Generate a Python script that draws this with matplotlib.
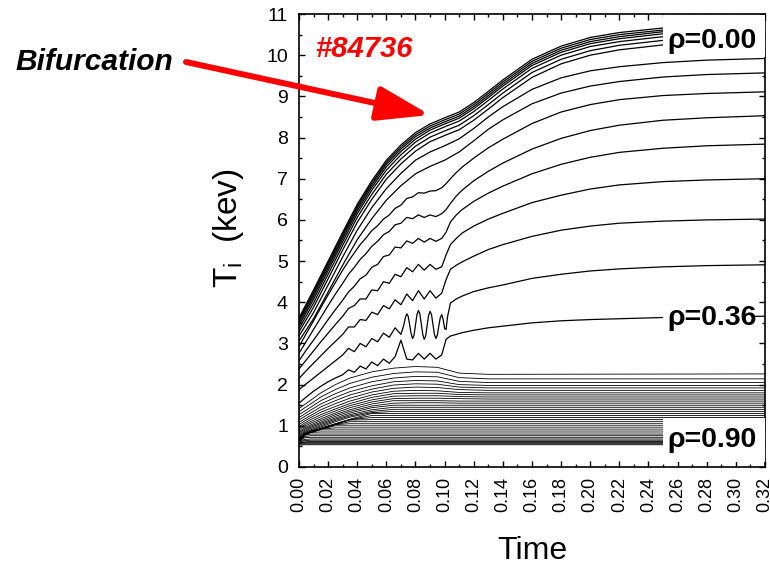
import matplotlib
matplotlib.use("Agg")
import matplotlib.pyplot as plt
from matplotlib.patches import Rectangle
from matplotlib.ticker import MultipleLocator

plt.rcParams['font.family'] = ['Liberation Sans', 'DejaVu Sans']
plt.rcParams['mathtext.default'] = 'regular'

# ---- central traces (rho = 0.00 ...), smooth, coarse time grid ----
t_smooth = [0.00, 0.01, 0.02, 0.03, 0.04, 0.05, 0.06, 0.07, 0.08, 0.09, 0.10,
            0.11, 0.12, 0.13, 0.14, 0.16, 0.18, 0.20, 0.22, 0.25, 0.28, 0.32]
ti_smooth = [
    [3.62, 4.30, 5.00, 5.70, 6.38, 6.95, 7.45, 7.82, 8.12, 8.33, 8.48, 8.62, 8.85, 9.12, 9.40, 9.90, 10.22, 10.43, 10.55, 10.66, 10.73, 10.79],
    [3.58, 4.25, 4.95, 5.65, 6.33, 6.90, 7.40, 7.77, 8.07, 8.28, 8.43, 8.57, 8.80, 9.07, 9.35, 9.85, 10.17, 10.38, 10.50, 10.61, 10.68, 10.74],
    [3.54, 4.20, 4.90, 5.60, 6.28, 6.85, 7.35, 7.72, 8.02, 8.23, 8.38, 8.52, 8.75, 9.02, 9.30, 9.80, 10.12, 10.33, 10.45, 10.57, 10.64, 10.70],
    [3.49, 4.14, 4.84, 5.54, 6.22, 6.79, 7.29, 7.66, 7.96, 8.18, 8.33, 8.47, 8.70, 8.97, 9.25, 9.75, 10.07, 10.28, 10.40, 10.52, 10.59, 10.65],
    [3.43, 4.07, 4.77, 5.47, 6.15, 6.72, 7.21, 7.58, 7.89, 8.11, 8.26, 8.40, 8.63, 8.90, 9.18, 9.68, 10.00, 10.21, 10.33, 10.45, 10.52, 10.58],
    [3.36, 3.98, 4.68, 5.38, 6.06, 6.62, 7.11, 7.48, 7.79, 8.01, 8.16, 8.30, 8.53, 8.80, 9.08, 9.58, 9.90, 10.11, 10.24, 10.36, 10.44, 10.50],
    [3.28, 3.88, 4.57, 5.27, 5.94, 6.50, 6.99, 7.36, 7.67, 7.90, 8.05, 8.19, 8.42, 8.69, 8.97, 9.46, 9.79, 10.00, 10.13, 10.25, 10.33, 10.40],
    [3.18, 3.75, 4.42, 5.10, 5.75, 6.30, 6.76, 7.13, 7.45, 7.65, 7.80, 7.97, 8.22, 8.50, 8.75, 9.17, 9.45, 9.62, 9.72, 9.82, 9.88, 9.92],
    [3.06, 3.60, 4.25, 4.90, 5.52, 6.03, 6.48, 6.83, 7.12, 7.30, 7.45, 7.65, 7.92, 8.20, 8.43, 8.82, 9.08, 9.25, 9.36, 9.47, 9.53, 9.57],
]

# ---- traces with small oscillations before the bifurcation ----
t_wavy = [0.000, 0.005, 0.010, 0.015, 0.020, 0.025, 0.030, 0.034, 0.038, 0.042,
          0.046, 0.050, 0.054, 0.058, 0.062, 0.066, 0.070, 0.074, 0.078, 0.082,
          0.086, 0.090, 0.094, 0.098, 0.101, 0.104, 0.108, 0.112, 0.120, 0.130,
          0.140, 0.160, 0.180, 0.200, 0.220, 0.250, 0.280, 0.320]
ti_wavy = [
    [2.92, 3.24, 3.55, 3.87, 4.18, 4.48, 4.78, 5.00, 5.20, 5.40, 5.56, 5.74, 5.86, 6.02, 6.12, 6.28, 6.36, 6.52, 6.56,
     6.66, 6.65, 6.70, 6.71, 6.78, 6.88, 7.00, 7.15, 7.28, 7.50, 7.75, 7.96, 8.34, 8.62, 8.80, 8.92, 9.02, 9.07, 9.11],
    [2.76, 3.05, 3.34, 3.63, 3.92, 4.20, 4.46, 4.68, 4.85, 5.04, 5.18, 5.36, 5.48, 5.64, 5.72, 5.88, 5.92, 6.06, 6.03,
     6.12, 6.06, 6.12, 6.08, 6.15, 6.25, 6.40, 6.58, 6.72, 6.95, 7.18, 7.38, 7.72, 7.98, 8.17, 8.30, 8.42, 8.48, 8.53],
    [2.58, 2.84, 3.08, 3.33, 3.58, 3.82, 4.05, 4.25, 4.39, 4.57, 4.66, 4.85, 4.92, 5.11, 5.15, 5.34, 5.32, 5.49, 5.43,
     5.55, 5.46, 5.55, 5.48, 5.55, 5.70, 5.95, 6.12, 6.25, 6.45, 6.65, 6.82, 7.12, 7.35, 7.52, 7.64, 7.74, 7.80, 7.84],
    [2.38, 2.60, 2.82, 3.04, 3.25, 3.46, 3.66, 3.85, 3.92, 4.08, 4.08, 4.30, 4.28, 4.50, 4.46, 4.68, 4.62, 4.84, 4.74,
     4.92, 4.78, 4.92, 4.80, 4.86, 5.15, 5.40, 5.55, 5.68, 5.85, 6.02, 6.16, 6.42, 6.60, 6.75, 6.85, 6.93, 6.97, 7.00],
    [2.15, 2.34, 2.52, 2.70, 2.88, 3.05, 3.22, 3.40, 3.40, 3.58, 3.56, 3.76, 3.70, 3.92, 3.84, 4.06, 3.94, 4.20, 4.04,
     4.28, 4.08, 4.28, 4.10, 4.22, 4.55, 4.80, 4.90, 4.98, 5.12, 5.28, 5.40, 5.60, 5.75, 5.85, 5.92, 5.97, 6.00, 6.02],
    [1.55, 1.70, 1.84, 1.96, 2.07, 2.16, 2.24, 2.36, 2.30, 2.45, 2.38, 2.55, 2.46, 2.62, 2.52, 2.68, 3.08, 2.62, 2.60,
     2.76, 2.62, 2.76, 2.62, 2.72, 3.10, 3.18, 3.22, 3.26, 3.32, 3.38, 3.42, 3.50, 3.55, 3.58, 3.60, 3.63, 3.65, 3.66],
]

# ---- strongly oscillating trace (ends near 4.9 keV) ----
t_osc = [0.000, 0.005, 0.010, 0.015, 0.020, 0.025, 0.030, 0.034, 0.038, 0.042, 0.046, 0.050, 0.054, 0.058, 0.062, 0.066, 0.068, 0.070,
         0.072, 0.073, 0.074, 0.075, 0.076, 0.077, 0.078, 0.079, 0.080, 0.081,
         0.082, 0.083, 0.084, 0.085, 0.086, 0.087, 0.088, 0.089, 0.090, 0.091,
         0.092, 0.093, 0.094, 0.095, 0.096, 0.097, 0.098, 0.099, 0.100, 0.101,
         0.102, 0.104, 0.108, 0.112, 0.120, 0.130, 0.140, 0.160, 0.180, 0.200, 0.220, 0.250, 0.280, 0.320]
ti_osc = [1.88, 2.02, 2.16, 2.30, 2.44, 2.58, 2.72, 2.88, 2.80, 3.00, 2.92, 3.12, 3.04, 3.25, 3.15, 3.38, 3.30, 3.22,
          3.45, 3.62, 3.72, 3.66, 3.45, 3.24, 3.12, 3.20, 3.45, 3.70,
          3.80, 3.72, 3.47, 3.22, 3.10, 3.18, 3.44, 3.68, 3.78, 3.70,
          3.46, 3.22, 3.12, 3.20, 3.42, 3.62, 3.70, 3.58, 3.36, 3.34,
          3.65, 3.98, 4.08, 4.15, 4.26, 4.35, 4.42, 4.58, 4.68, 4.76, 4.81, 4.86, 4.89, 4.91]

# ---- edge traces (dense bundle) ----
t_low = [0.000, 0.004, 0.008, 0.015, 0.025, 0.035, 0.050, 0.065, 0.080, 0.095, 0.110, 0.130, 0.320]
ti_low = [
    [1.42, 1.52, 1.62, 1.80, 2.00, 2.16, 2.31, 2.40, 2.44, 2.42, 2.28, 2.25, 2.26],
    [1.34, 1.44, 1.53, 1.70, 1.88, 2.03, 2.18, 2.27, 2.31, 2.30, 2.17, 2.14, 2.14],
    [1.27, 1.36, 1.45, 1.61, 1.78, 1.92, 2.07, 2.16, 2.20, 2.19, 2.08, 2.05, 2.05],
    [1.20, 1.29, 1.38, 1.53, 1.69, 1.83, 1.97, 2.07, 2.10, 2.09, 2.00, 1.98, 1.98],
    [1.14, 1.23, 1.31, 1.46, 1.61, 1.75, 1.89, 1.99, 2.02, 2.01, 1.94, 1.92, 1.92],
    [1.08, 1.17, 1.25, 1.39, 1.54, 1.67, 1.82, 1.91, 1.94, 1.93, 1.88, 1.86, 1.86],
    [1.03, 1.12, 1.20, 1.33, 1.47, 1.60, 1.75, 1.84, 1.86, 1.85, 1.81, 1.80, 1.80],
    [0.98, 1.07, 1.15, 1.27, 1.41, 1.54, 1.69, 1.78, 1.79, 1.79, 1.76, 1.75, 1.75],
    [0.94, 1.03, 1.10, 1.22, 1.36, 1.49, 1.63, 1.72, 1.73, 1.73, 1.71, 1.70, 1.70],
    [0.90, 0.99, 1.06, 1.17, 1.31, 1.44, 1.58, 1.66, 1.67, 1.67, 1.66, 1.65, 1.65],
    [0.86, 0.95, 1.02, 1.13, 1.27, 1.39, 1.53, 1.61, 1.61, 1.61, 1.60, 1.60, 1.60],
    [0.83, 0.92, 0.99, 1.09, 1.23, 1.35, 1.48, 1.55, 1.56, 1.56, 1.55, 1.55, 1.55],
    [0.80, 0.89, 0.96, 1.06, 1.19, 1.31, 1.44, 1.50, 1.50, 1.50, 1.50, 1.50, 1.50],
    [0.77, 0.86, 0.93, 1.03, 1.16, 1.27, 1.39, 1.45, 1.45, 1.45, 1.45, 1.45, 1.45],
    [0.74, 0.84, 0.90, 1.00, 1.13, 1.24, 1.35, 1.40, 1.40, 1.40, 1.40, 1.40, 1.40],
    [0.71, 0.82, 0.88, 0.97, 1.10, 1.21, 1.32, 1.35, 1.35, 1.35, 1.35, 1.35, 1.35],
    [0.68, 0.81, 0.86, 0.94, 1.05, 1.16, 1.30, 1.30, 1.30, 1.30, 1.30, 1.30, 1.30],
    [0.67, 0.80, 0.86, 0.94, 1.05, 1.15, 1.25, 1.25, 1.25, 1.25, 1.25, 1.25, 1.25],
    [0.67, 0.80, 0.85, 0.93, 1.04, 1.15, 1.20, 1.20, 1.20, 1.20, 1.20, 1.20, 1.20],
    [0.66, 0.80, 0.85, 0.93, 1.04, 1.14, 1.15, 1.15, 1.15, 1.15, 1.15, 1.15, 1.15],
    [0.66, 0.79, 0.84, 0.92, 1.03, 1.10, 1.10, 1.10, 1.10, 1.10, 1.10, 1.10, 1.10],
    [0.65, 0.79, 0.84, 0.92, 1.03, 1.05, 1.05, 1.05, 1.05, 1.05, 1.05, 1.05, 1.05],
    [0.65, 0.79, 0.84, 0.92, 1.00, 1.00, 1.00, 1.00, 1.00, 1.00, 1.00, 1.00, 1.00],
    [0.64, 0.79, 0.84, 0.92, 0.95, 0.95, 0.95, 0.95, 0.95, 0.95, 0.95, 0.95, 0.95],
    [0.64, 0.78, 0.84, 0.90, 0.90, 0.90, 0.90, 0.90, 0.90, 0.90, 0.90, 0.90, 0.90],
    [0.63, 0.78, 0.84, 0.85, 0.85, 0.85, 0.85, 0.85, 0.85, 0.85, 0.85, 0.85, 0.85],
    [0.63, 0.77, 0.80, 0.80, 0.80, 0.80, 0.80, 0.80, 0.80, 0.80, 0.80, 0.80, 0.80],
    [0.62, 0.74, 0.76, 0.76, 0.76, 0.76, 0.76, 0.76, 0.76, 0.76, 0.76, 0.76, 0.76],
    [0.62, 0.71, 0.72, 0.72, 0.72, 0.72, 0.72, 0.72, 0.72, 0.72, 0.72, 0.72, 0.72],
    [0.61, 0.67, 0.68, 0.68, 0.68, 0.68, 0.68, 0.68, 0.68, 0.68, 0.68, 0.68, 0.68],
    [0.60, 0.64, 0.65, 0.65, 0.65, 0.65, 0.65, 0.65, 0.65, 0.65, 0.65, 0.65, 0.65],
    [0.59, 0.61, 0.62, 0.62, 0.62, 0.62, 0.62, 0.62, 0.62, 0.62, 0.62, 0.62, 0.62],
    [0.58, 0.60, 0.60, 0.60, 0.60, 0.60, 0.60, 0.60, 0.60, 0.60, 0.60, 0.60, 0.60],
    [0.57, 0.58, 0.58, 0.58, 0.58, 0.58, 0.58, 0.58, 0.58, 0.58, 0.58, 0.58, 0.58],
    [0.55, 0.56, 0.56, 0.56, 0.56, 0.56, 0.56, 0.56, 0.56, 0.56, 0.56, 0.56, 0.56],
    [0.53, 0.54, 0.54, 0.54, 0.54, 0.54, 0.54, 0.54, 0.54, 0.54, 0.54, 0.54, 0.54],
]

x_ticks = [0.00, 0.02, 0.04, 0.06, 0.08, 0.10, 0.12, 0.14, 0.16,
           0.18, 0.20, 0.22, 0.24, 0.26, 0.28, 0.30, 0.32]
y_ticks = [0, 1, 2, 3, 4, 5, 6, 7, 8, 9, 10, 11]
rho_labels = ["ρ=0.00", "ρ=0.36", "ρ=0.90"]
rho_label_pos = [(0.2531, 10.17), (0.2531, 3.45), (0.2531, 0.49)]
# white masks behind the labels (axes fractions: x0, y0, w, h)
rho_masks = [(0.781, 0.905, 0.219, 0.093), (0.781, 0.291, 0.195, 0.078), (0.781, 0.011, 0.219, 0.097)]
shot = "#84736"

fig = plt.figure(figsize=(7.7, 5.67), dpi=100)
ax = fig.add_axes([0.3883, 0.1764, 0.6052, 0.7989])

for row in ti_low:
    ax.plot(t_low, row, color='black', lw=0.6)
for row in ti_wavy:
    ax.plot(t_wavy, row, color='black', lw=0.9)
ax.plot(t_osc, ti_osc, color='black', lw=0.9)
for row in ti_smooth:
    ax.plot(t_smooth, row, color='black', lw=0.9)

ax.set_xlim(0, 0.32)
ax.set_ylim(0, 11)
ax.set_xticks(x_ticks)
ax.set_xticklabels([f"{v:.2f}" for v in x_ticks], rotation=90)
ax.set_yticks(y_ticks)
ax.set_yticklabels([str(v) for v in y_ticks])
ax.xaxis.set_minor_locator(MultipleLocator(0.01))
ax.yaxis.set_minor_locator(MultipleLocator(0.5))
ax.tick_params(which='both', direction='in', top=True, right=True, width=1)
ax.tick_params(which='major', length=4.5)
ax.tick_params(which='minor', length=2.5)
ax.tick_params(axis='x', labelsize=13, pad=7)
ax.tick_params(axis='y', labelsize=14, pad=8)
for s in ax.spines.values():
    s.set_linewidth(1.2)

for (mx, my, mw, mh) in rho_masks:
    ax.add_patch(Rectangle((mx, my), mw, mh, transform=ax.transAxes,
                           facecolor='white', edgecolor='none', zorder=4))
for lab, (tx, ty) in zip(rho_labels, rho_label_pos):
    ax.text(tx, ty, lab, fontweight='bold', fontsize=20.5,
            ha='left', va='baseline', zorder=5)

ax.text(0.011, 9.95, shot, fontweight='bold', style='italic',
        fontsize=21, color='red', ha='left', va='baseline')

fig.text(15 / 770, 1 - 70 / 567, "Bifurcation", fontweight='bold', style='italic',
         fontsize=21.5, ha='left', va='baseline')
ax.annotate('', xy=(430, 567 - 115), xytext=(186, 567 - 62),
            xycoords='figure pixels', textcoords='figure pixels',
            arrowprops=dict(arrowstyle='-|>,head_length=32,head_width=10.5',
                            mutation_scale=1, lw=4.3, color='red',
                            shrinkA=0, shrinkB=0))

fig.text(532 / 770, 1 - 566 / 567, "Time", fontsize=23, ha='center', va='bottom')
fig.text(228 / 770, 1 - 228 / 567, r"T$_{i}$  (kev)", fontsize=24, rotation=90,
         ha='center', va='center')

fig.savefig("out.png", dpi=100)
